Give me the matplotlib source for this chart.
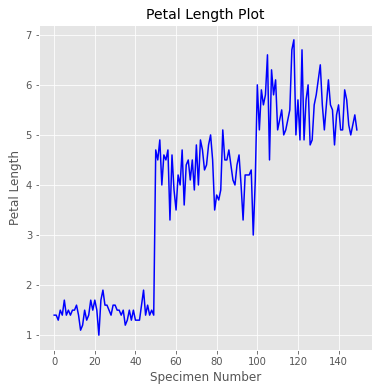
import matplotlib
matplotlib.use("Agg")
import matplotlib.pyplot as plt
import numpy as np

plt.style.use('ggplot')

petal_length = [
    1.4, 1.4, 1.3, 1.5, 1.4, 1.7, 1.4, 1.5, 1.4, 1.5,
    1.5, 1.6, 1.4, 1.1, 1.2, 1.5, 1.3, 1.4, 1.7, 1.5,
    1.7, 1.5, 1.0, 1.7, 1.9, 1.6, 1.6, 1.5, 1.4, 1.6,
    1.6, 1.5, 1.5, 1.4, 1.5, 1.2, 1.3, 1.5, 1.3, 1.5,
    1.3, 1.3, 1.3, 1.6, 1.9, 1.4, 1.6, 1.4, 1.5, 1.4,
    4.7, 4.5, 4.9, 4.0, 4.6, 4.5, 4.7, 3.3, 4.6, 3.9,
    3.5, 4.2, 4.0, 4.7, 3.6, 4.4, 4.5, 4.1, 4.5, 3.9,
    4.8, 4.0, 4.9, 4.7, 4.3, 4.4, 4.8, 5.0, 4.5, 3.5,
    3.8, 3.7, 3.9, 5.1, 4.5, 4.5, 4.7, 4.4, 4.1, 4.0,
    4.4, 4.6, 4.0, 3.3, 4.2, 4.2, 4.2, 4.3, 3.0, 4.1,
    6.0, 5.1, 5.9, 5.6, 5.8, 6.6, 4.5, 6.3, 5.8, 6.1,
    5.1, 5.3, 5.5, 5.0, 5.1, 5.3, 5.5, 6.7, 6.9, 5.0,
    5.7, 4.9, 6.7, 4.9, 5.7, 6.0, 4.8, 4.9, 5.6, 5.8,
    6.1, 6.4, 5.6, 5.1, 5.6, 6.1, 5.6, 5.5, 4.8, 5.4,
    5.6, 5.1, 5.1, 5.9, 5.7, 5.2, 5.0, 5.2, 5.4, 5.1,
]
specimen = np.arange(len(petal_length))

fig, ax = plt.subplots(figsize=(379 / 72, 391 / 72), dpi=72)
fig.subplots_adjust(left=0.103, right=0.9815, top=0.936, bottom=0.105)

ax.plot(specimen, petal_length, color='blue')
ax.set_title("Petal Length Plot", color='black', fontsize=14)
ax.set_xlabel("Specimen Number")
ax.set_ylabel("Petal Length")

fig.savefig("out.png", dpi=72)
